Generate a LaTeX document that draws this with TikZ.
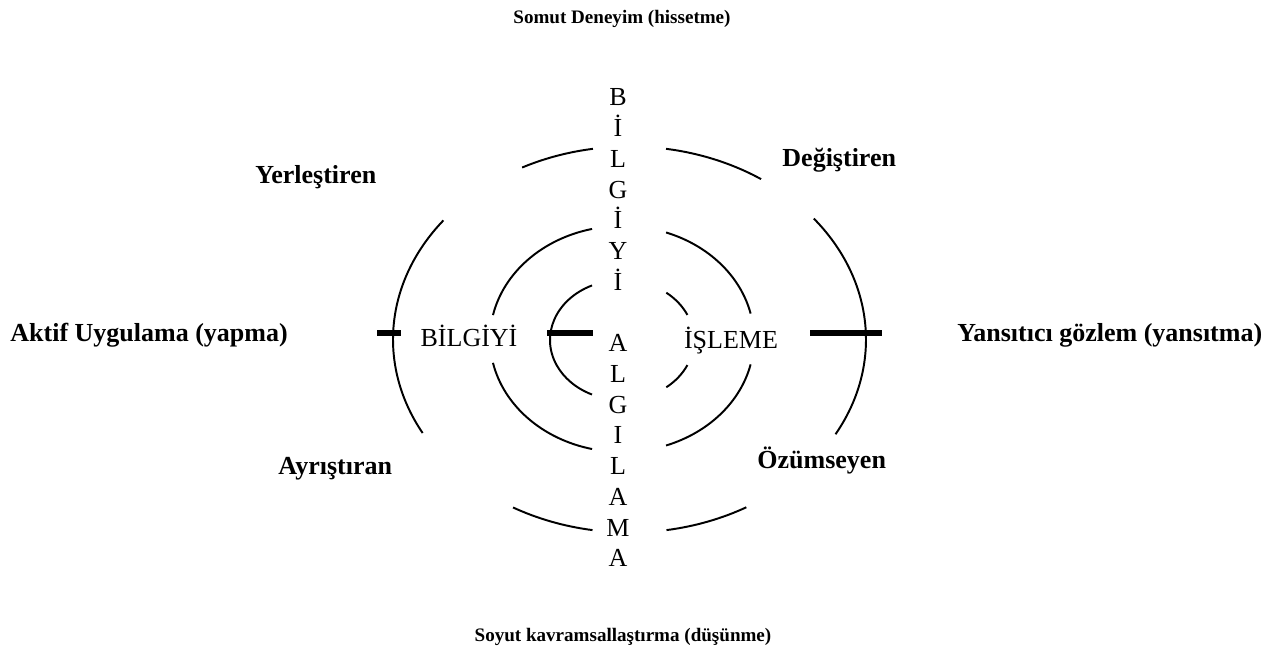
\documentclass[tikz,border=0pt]{standalone}
\usepackage{fontspec}
\setmainfont{Liberation Serif}
\begin{document}
\begin{tikzpicture}[
    x=0.4615pt, y=0.4615pt,
    font=\fontsize{12}{14.18}\selectfont,
    ring/.style={line width=0.9pt},
    tick/.style={line width=2.4pt},
    word/.style={inner sep=0pt, anchor=base},
    side/.style={inner sep=0pt, anchor=base west, font=\fontsize{12}{14.18}\selectfont\bfseries},
    pole/.style={inner sep=0pt, anchor=base, font=\fontsize{8.8}{10.6}\selectfont\bfseries}
]
\useasboundingbox (0,0) rectangle (1279,657);
\coordinate (outer) at (629.5,317.5);
\coordinate (middle) at (622,318);
\coordinate (inner) at (622,317);

% outer ring
\draw[ring] (outer) ++(98.9:236.5 and 193) arc[start angle=98.9, end angle=117, x radius=236.5, y radius=193];
\draw[ring] (outer) ++(56.2:236.5 and 193) arc[start angle=56.2, end angle=81.1, x radius=236.5, y radius=193];
\draw[ring] (outer) ++(141.9:236.5 and 193) arc[start angle=141.9, end angle=209, x radius=236.5, y radius=193];
\draw[ring] (outer) ++(-29.4:236.5 and 193) arc[start angle=-29.4, end angle=38.8, x radius=236.5, y radius=193];
\draw[ring] (outer) ++(240.5:236.5 and 193) arc[start angle=240.5, end angle=261, x radius=236.5, y radius=193];
\draw[ring] (outer) ++(279:236.5 and 193) arc[start angle=279, end angle=299.6, x radius=236.5, y radius=193];
% middle ring
\draw[ring] (middle) ++(103.1:132 and 113) arc[start angle=103.1, end angle=167.8, x radius=132, y radius=113];
\draw[ring] (middle) ++(192.2:132 and 113) arc[start angle=192.2, end angle=256.9, x radius=132, y radius=113];
\draw[ring] (middle) ++(13:132 and 113) arc[start angle=13, end angle=70.5, x radius=132, y radius=113];
\draw[ring] (middle) ++(289.5:132 and 113) arc[start angle=289.5, end angle=347, x radius=132, y radius=113];
% inner ring
\draw[ring] (inner) ++(114.6:72 and 60) arc[start angle=114.6, end angle=245.4, x radius=72, y radius=60];
\draw[ring] (inner) ++(24.7:72 and 60) arc[start angle=24.7, end angle=52, x radius=72, y radius=60];
\draw[ring] (inner) ++(-52:72 and 60) arc[start angle=-52, end angle=-24.7, x radius=72, y radius=60];

% bars
\draw[tick] (377,324) -- (401,324);
\draw[tick] (547,324) -- (593,324);
\draw[tick] (810,324) -- (882,324);

\node[inner sep=0pt, anchor=north, align=center] (vertical) at (618,568.6)
  {B\\İ\\L\\G\\İ\\Y\\İ\\[14.18pt]A\\L\\G\\I\\L\\A\\M\\A};
\node[word] (bilgiyi) at (469,310) {BİLGİYİ};
\node[word] (isleme) at (731,308) {İŞLEME};

\node[pole] (somut) at (622,633) {Somut Deneyim (hissetme)};
\node[pole] (soyut) at (623,15) {Soyut kavramsallaştırma (düşünme)};
\node[side] (aktif) at (10,315) {Aktif Uygulama (yapma)};
\node[side] (yansitici) at (957,315) {Yansıtıcı gözlem (yansıtma)};
\node[side] (yerlestiren) at (255,473) {Yerleştiren};
\node[side] (degistiren) at (782,490.4) {Değiştiren};
\node[side] (ayristiran) at (278,182) {Ayrıştıran};
\node[side] (ozumseyen) at (757,188) {Özümseyen};
\end{tikzpicture}
\end{document}
